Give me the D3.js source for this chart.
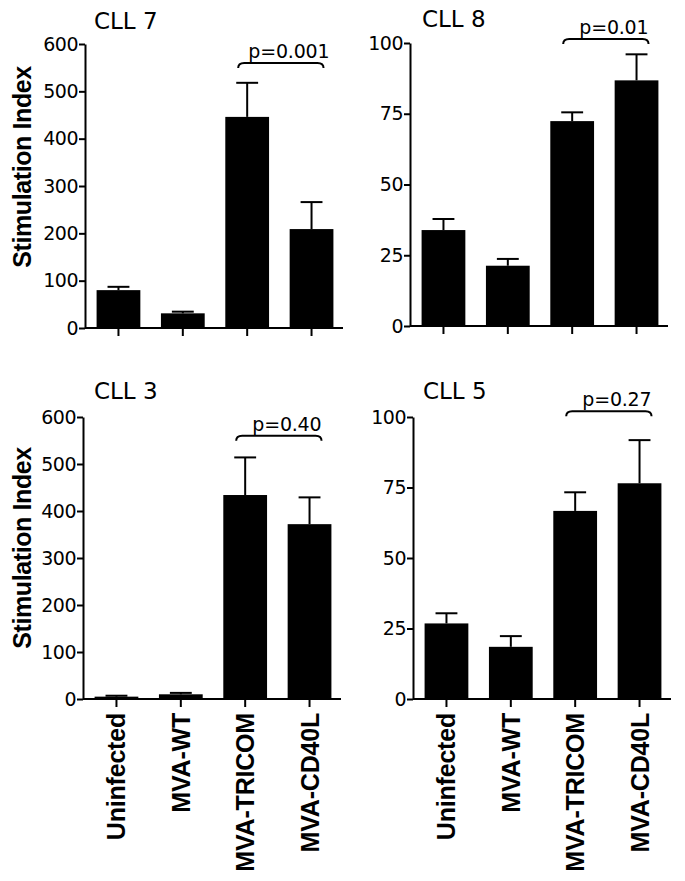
<!DOCTYPE html>
<html>
<head>
<meta charset="utf-8">
<script src="https://cdn.jsdelivr.net/npm/d3@7"></script>
<style>
  html, body { margin: 0; padding: 0; background: #fff; }
  svg { display: block; }
</style>
</head>
<body>
<svg id="chart" width="685" height="881"></svg>
<script>
// ---------- data ----------
const categories = ["Uninfected", "MVA-WT", "MVA-TRICOM", "MVA-CD40L"];

const cll7Values = [80, 31, 446, 209];
const cll7Errors = [7, 3.5, 72, 57];
const cll8Values = [33.9, 21.3, 72.4, 86.8];
const cll8Errors = [3.9, 2.4, 3.1, 9.2];
const cll3Values = [5, 10, 434, 372];
const cll3Errors = [2, 3, 80, 57];
const cll5Values = [26.8, 18.5, 66.7, 76.5];
const cll5Errors = [3.6, 3.8, 6.6, 15.3];

const ticks600 = [0, 100, 200, 300, 400, 500, 600];
const ticks100 = [0, 25, 50, 75, 100];

const titles = ["CLL 7", "CLL 8", "CLL 3", "CLL 5"];
const pLabels = ["p=0.001", "p=0.01", "p=0.40", "p=0.27"];
const yLabel = "Stimulation Index";

// ---------- layout ----------
const panels = [
  { title: titles[0], values: cll7Values, errors: cll7Errors, ticks: ticks600, max: 600, p: pLabels[0],
    x0: 85, y0: 328, y1: 44, titleX: 94, titleY: 29, bracket: 560, yLabelY: 167, showY: true, showX: false },
  { title: titles[1], values: cll8Values, errors: cll8Errors, ticks: ticks100, max: 100, p: pLabels[1],
    x0: 410, y0: 326, y1: 43, titleX: 422, titleY: 27, bracket: 101.4, showY: false, showX: false },
  { title: titles[2], values: cll3Values, errors: cll3Errors, ticks: ticks600, max: 600, p: pLabels[2],
    x0: 83, y0: 699, y1: 417, titleX: 94, titleY: 399, bracket: 560, yLabelY: 548, showY: true, showX: true },
  { title: titles[3], values: cll5Values, errors: cll5Errors, ticks: ticks100, max: 100, p: pLabels[3],
    x0: 413, y0: 699, y1: 417, titleX: 423, titleY: 399, bracket: 102, showY: false, showX: true }
];

const svg = d3.select("#chart");
const tickFont = "'DejaVu Sans', Verdana, sans-serif";
const boldFont = "'Liberation Sans', Arial, sans-serif";

panels.forEach(pn => {
  const g = svg.append("g");
  const x = d3.scaleBand().domain(categories).range([pn.x0, pn.x0 + 260])
    .paddingInner(0.32).paddingOuter(0.18);
  const y = d3.scaleLinear().domain([0, pn.max]).range([pn.y0, pn.y1]);

  // bars
  g.selectAll("rect.bar").data(categories).join("rect")
    .attr("x", d => x(d))
    .attr("y", (d, i) => y(pn.values[i]))
    .attr("width", x.bandwidth())
    .attr("height", (d, i) => y(0) - y(pn.values[i]))
    .attr("fill", "#000");

  // error bars (upper)
  const cap = x.bandwidth() * 0.5;
  categories.forEach((c, i) => {
    const cx = x(c) + x.bandwidth() / 2;
    const top = y(pn.values[i] + pn.errors[i]);
    g.append("line").attr("x1", cx).attr("x2", cx)
      .attr("y1", y(pn.values[i])).attr("y2", top)
      .attr("stroke", "#000").attr("stroke-width", 2);
    g.append("line").attr("x1", cx - cap / 2).attr("x2", cx + cap / 2)
      .attr("y1", top).attr("y2", top)
      .attr("stroke", "#000").attr("stroke-width", 2);
  });

  // y axis
  const yAxis = d3.axisLeft(y).tickValues(pn.ticks).tickSize(6).tickPadding(1).tickSizeOuter(0);
  const ya = g.append("g").attr("transform", `translate(${pn.x0},0)`).call(yAxis);
  ya.attr("font-size", null).attr("font-family", null);
  ya.select(".domain").attr("stroke-width", 2);
  ya.selectAll(".tick line").attr("stroke-width", 2);
  ya.selectAll(".tick text").attr("font-family", tickFont).attr("font-size", 19)
    .attr("fill", "#000").attr("letter-spacing", -0.5);

  // x axis
  const xAxis = d3.axisBottom(x).tickSize(8).tickSizeOuter(0).tickFormat("");
  const xa = g.append("g").attr("transform", `translate(0,${pn.y0})`).call(xAxis);
  xa.select(".domain").attr("d", `M${pn.x0},0H${pn.x0 + 258}`).attr("stroke-width", 2);
  xa.selectAll(".tick line").attr("stroke-width", 2);

  // title
  g.append("text").attr("x", pn.titleX).attr("y", pn.titleY)
    .attr("font-family", tickFont).attr("font-size", 23)
    .text(pn.title);

  // bracket
  const c3 = x(categories[2]) + x.bandwidth() / 2;
  const c4 = x(categories[3]) + x.bandwidth() / 2;
  const bl = c3 - 9, br = c4 + 12, bt = y(pn.bracket);
  g.append("path")
    .attr("d", `M${bl},${bt + 5}Q${bl},${bt} ${bl + 6},${bt}L${br - 6},${bt}Q${br},${bt} ${br},${bt + 5}`)
    .attr("fill", "none").attr("stroke", "#000").attr("stroke-width", 2);
  g.append("text").attr("x", (bl + br) / 2 + 8).attr("y", bt - 5)
    .attr("text-anchor", "middle")
    .attr("font-family", tickFont).attr("font-size", 19).attr("letter-spacing", -0.2)
    .text(pn.p);

  // y label
  if (pn.showY) {
    g.append("text")
      .attr("transform", `translate(31,${pn.yLabelY}) rotate(-90)`)
      .attr("text-anchor", "middle")
      .attr("font-family", boldFont).attr("font-weight", "bold").attr("font-size", 25)
      .attr("letter-spacing", -0.4)
      .text(yLabel);
  }

  // x labels
  if (pn.showX) {
    categories.forEach(c => {
      const cx = x(c) + x.bandwidth() / 2;
      g.append("text")
        .attr("transform", `translate(${cx + 9},${pn.y0 + 14}) rotate(-90)`)
        .attr("text-anchor", "end")
        .attr("font-family", boldFont).attr("font-weight", "bold").attr("font-size", 25)
        .attr("letter-spacing", -0.2)
        .text(c);
    });
  }
});
</script>
</body>
</html>
